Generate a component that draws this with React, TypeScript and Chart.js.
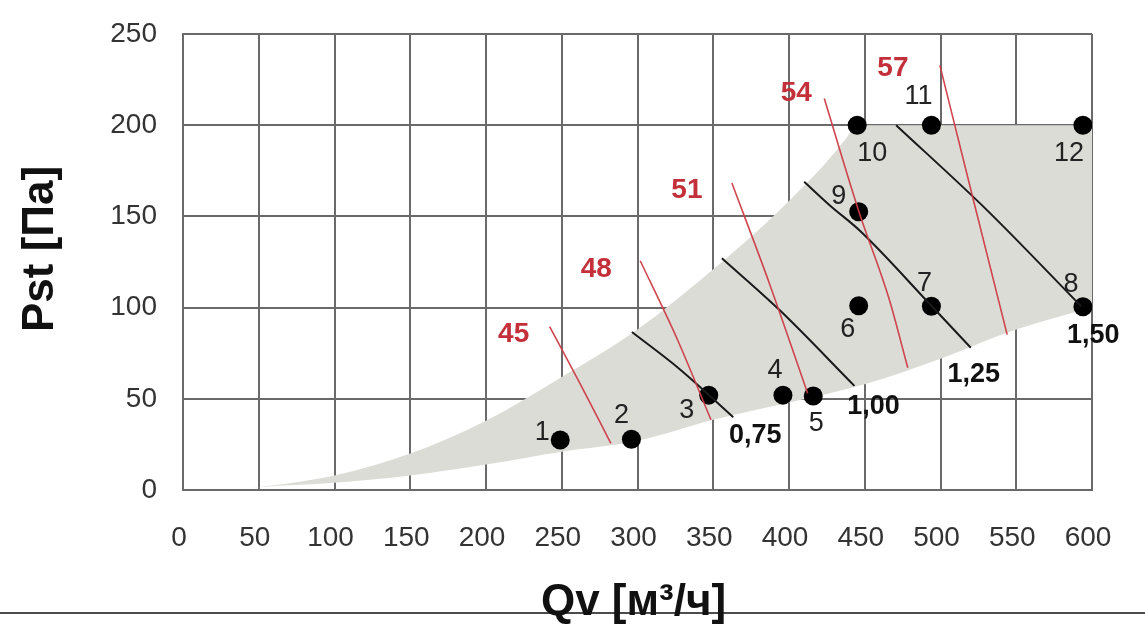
import React, { useEffect, useRef } from 'react';
import { Chart, registerables } from 'chart.js';

Chart.register(...registerables);

// ---------- data ----------
const xMin = 0;
const xMax = 600;
const xStep = 50;
const yMin = 0;
const yMax = 250;
const yStep = 50;

const xTitle = 'Qv [м³/ч]';
const yTitle = 'Pst [Па]';

// operating area (upper and lower boundaries), [Qv, Pst]
const areaUpper: [number, number][] = [
  [36, 0], [100, 8], [150, 20], [200, 38], [250, 62], [300, 88], [350, 121],
  [387, 148], [410, 167], [425, 180], [437, 192], [445, 200], [600, 200],
];
const areaLower: [number, number][] = [
  [36, 0], [50, 1.5], [100, 4], [150, 8], [200, 14], [250, 21], [300, 27],
  [350, 38.5], [400, 48], [450, 58], [500, 72], [550, 88], [600, 100],
];

// sound level curves (red)
const soundLevels = ['45', '48', '51', '54', '57'];
const sound45: [number, number][] = [[242, 89.6], [262, 58.5], [282.4, 25.6]];
const sound48: [number, number][] = [[301.8, 125.7], [326.4, 82.4], [348.5, 38.5]];
const sound51: [number, number][] = [[362.3, 168.3], [387, 113.4], [412.3, 53.1]];
const sound54: [number, number][] = [[423.3, 214.6], [446, 153], [466, 105], [478.4, 67]];
const sound57: [number, number][] = [[499.6, 232.8], [522, 158], [544, 85.2]];
const soundCurves = [sound45, sound48, sound51, sound54, sound57];

// power curves (black)
const powerLevels = ['0,75', '1,00', '1,25', '1,50'];
const power075: [number, number][] = [[296.3, 86.6], [327.5, 66.5], [363.2, 39.9]];
const power100: [number, number][] = [[355.7, 127.1], [393.6, 98.8], [443.2, 57.1]];
const power125: [number, number][] = [[410, 169], [427, 156], [447, 142], [494, 101], [520, 78]];
const power150: [number, number][] = [[470.7, 200], [530, 154], [592.9, 100.7]];
const powerCurves = [power075, power100, power125, power150];

// numbered operating points
const pointNames = ['1', '2', '3', '4', '5', '6', '7', '8', '9', '10', '11', '12'];
const pointQv = [249, 296, 347, 396, 416, 446, 494, 594, 446, 445, 494, 594];
const pointPst = [27.4, 27.8, 52, 52, 51.5, 101, 100.7, 100.5, 152.6, 200, 200, 200];

// ---------- styles ----------
const FONT = '"Liberation Sans", Arial, Helvetica, sans-serif';
const GRID = '#6a6a6a';
const AREA = '#dcdcd7';
const RED_LINE = 'rgba(205,60,70,0.95)';
const RED_TEXT = '#c4303a';
const pointLabelOffset: [number, number][] = [
  [-18, -7], [-10, -24], [-22, 15], [-8, -25], [3, 27], [-11, 24],
  [-7, -23], [-12, -22], [-20, -15], [15, 28], [-13, -29], [-14, 28],
];
const powerLabelOffset: [number, number][] = [[22, 18], [19, 21], [3, 27], [12, 29]];
const soundLabelOffset: [number, number][] = [[-36, 8], [-44, 9], [-45, 7], [-28, -5], [-47, 3]];

const toXY = (arr: [number, number][]) => arr.map(([x, y]) => ({ x, y }));

const labelsPlugin = {
  id: 'fanLabels',
  afterDatasetsDraw(chart: any) {
    const { ctx } = chart;
    const xs = chart.scales.x;
    const ys = chart.scales.y;
    ctx.save();
    ctx.textAlign = 'center';
    ctx.textBaseline = 'middle';

    // point numbers
    ctx.font = `27px ${FONT}`;
    ctx.fillStyle = '#222';
    pointNames.forEach((n, i) => {
      const px = xs.getPixelForValue(pointQv[i]) + pointLabelOffset[i][0];
      const py = ys.getPixelForValue(pointPst[i]) + pointLabelOffset[i][1];
      ctx.fillText(n, px, py);
    });

    // power labels (at curve ends)
    ctx.font = `bold 27px ${FONT}`;
    ctx.fillStyle = '#111';
    powerLevels.forEach((t, i) => {
      const c = powerCurves[i];
      const e = c[c.length - 1];
      ctx.fillText(t, xs.getPixelForValue(e[0]) + powerLabelOffset[i][0], ys.getPixelForValue(e[1]) + powerLabelOffset[i][1]);
    });

    // sound labels (at curve starts)
    ctx.font = `bold 28px ${FONT}`;
    ctx.fillStyle = RED_TEXT;
    soundLevels.forEach((t, i) => {
      const s = soundCurves[i][0];
      ctx.fillText(t, xs.getPixelForValue(s[0]) + soundLabelOffset[i][0], ys.getPixelForValue(s[1]) + soundLabelOffset[i][1]);
    });
    ctx.restore();
  },
  afterDraw(chart: any) {
    const { ctx, width, chartArea } = chart;
    ctx.save();
    // horizontal rule
    ctx.strokeStyle = '#111';
    ctx.lineWidth = 1.5;
    ctx.beginPath();
    ctx.moveTo(0, 613);
    ctx.lineTo(width, 613);
    ctx.stroke();

    ctx.fillStyle = '#111';
    ctx.font = `bold 44px ${FONT}`;
    ctx.textAlign = 'center';
    ctx.textBaseline = 'alphabetic';
    ctx.fillText(xTitle, (chartArea.left + chartArea.right) / 2 - 4, 615);

    ctx.translate(53, 249);
    ctx.rotate(-Math.PI / 2);
    ctx.fillText(yTitle, 0, 0);
    ctx.restore();
  },
};

export default function App() {
  const ref = useRef<HTMLCanvasElement | null>(null);

  useEffect(() => {
    if (!ref.current) return;
    const datasets: any[] = [];
    soundCurves.forEach((c, i) => {
      datasets.push({
        label: 'L ' + soundLevels[i],
        data: toXY(c),
        showLine: true,
        borderColor: RED_LINE,
        borderWidth: 1.6,
        pointRadius: 0,
        cubicInterpolationMode: 'monotone',
        fill: false,
      });
    });
    powerCurves.forEach((c, i) => {
      datasets.push({
        label: 'P ' + powerLevels[i],
        data: toXY(c),
        showLine: true,
        borderColor: '#1a1a1a',
        borderWidth: 2,
        pointRadius: 0,
        cubicInterpolationMode: 'monotone',
        fill: false,
      });
    });
    datasets.push({
      label: 'points',
      data: pointQv.map((x, i) => ({ x, y: pointPst[i] })),
      showLine: false,
      pointRadius: 9.5,
      pointBackgroundColor: '#000',
      pointBorderColor: '#000',
      pointBorderWidth: 0,
    });
    datasets.push({
      label: 'area upper',
      data: toXY(areaUpper),
      showLine: true,
      borderWidth: 0,
      borderColor: 'rgba(0,0,0,0)',
      pointRadius: 0,
      cubicInterpolationMode: 'monotone',
      backgroundColor: AREA,
      fill: '+1',
    });
    datasets.push({
      label: 'area lower',
      data: toXY(areaLower),
      showLine: true,
      borderWidth: 0,
      borderColor: 'rgba(0,0,0,0)',
      pointRadius: 0,
      cubicInterpolationMode: 'monotone',
      fill: false,
    });

    const chart = new Chart(ref.current, {
      type: 'scatter',
      data: { datasets },
      options: {
        animation: false,
        responsive: false,
        devicePixelRatio: 1,
        layout: { padding: { top: 34, right: 53, left: 0, bottom: 0 } },
        plugins: {
          legend: { display: false },
          tooltip: { enabled: false },
          title: { display: false },
        },
        scales: {
          x: {
            type: 'linear',
            min: xMin,
            max: xMax,
            ticks: {
              stepSize: xStep,
              autoSkip: false,
              maxRotation: 0,
              padding: 31,
              labelOffset: -4,
              color: '#333',
              font: { family: FONT, size: 28 },
            },
            grid: { color: GRID, lineWidth: 2, drawTicks: false },
            border: { color: GRID, width: 2 },
            afterFit: (s: any) => {
              s.height = 151;
              s.paddingLeft = 0;
              s.paddingRight = 0;
            },
          },
          y: {
            type: 'linear',
            min: yMin,
            max: yMax,
            ticks: {
              stepSize: yStep,
              padding: 26,
              color: '#333',
              font: { family: FONT, size: 28 },
            },
            grid: { color: GRID, lineWidth: 2, drawTicks: false },
            border: { color: GRID, width: 2 },
            afterFit: (s: any) => {
              s.width = 183;
              s.paddingTop = 0;
              s.paddingBottom = 0;
            },
          },
        },
      },
      plugins: [labelsPlugin],
    });
    return () => chart.destroy();
  }, []);

  return (
    <div style={{ position: 'absolute', left: 0, top: 0, width: 1145, height: 641, background: '#fff' }}>
      <canvas ref={ref} width={1145} height={641} style={{ display: 'block' }} />
    </div>
  );
}
